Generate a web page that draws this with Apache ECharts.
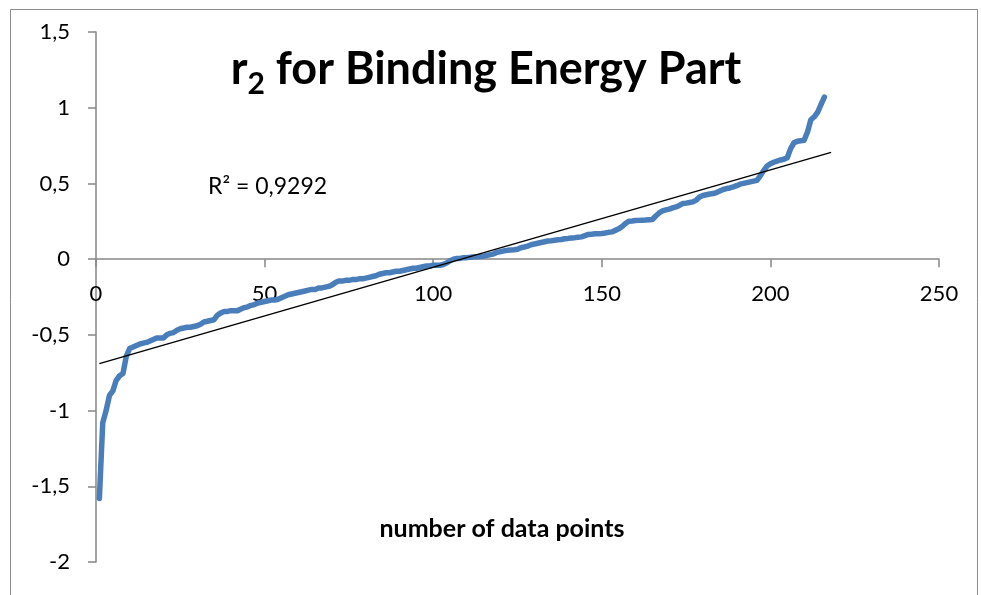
<!DOCTYPE html>
<html>
<head>
<meta charset="utf-8">
<script src="https://cdn.jsdelivr.net/npm/echarts@6/dist/echarts.min.js"></script>
<style>
html,body{margin:0;padding:0;background:#fff;}
#chart{width:981px;height:595px;}
</style>
</head>
<body>
<div id="chart"></div>
<script>
// r2 values, sorted, for data points 1..216
const r2Values = [
 -1.58,-1.08,-1.00,-0.90,-0.87,-0.80,-0.77,-0.755,-0.64,-0.59,
 -0.58,-0.57,-0.56,-0.555,-0.55,-0.54,-0.53,-0.52,-0.52,-0.52,
 -0.50,-0.49,-0.485,-0.47,-0.46,-0.455,-0.45,-0.45,-0.445,-0.44,
 -0.43,-0.415,-0.41,-0.405,-0.40,-0.37,-0.355,-0.345,-0.345,-0.34,
 -0.34,-0.34,-0.33,-0.32,-0.315,-0.305,-0.30,-0.29,-0.285,-0.28,
 -0.275,-0.27,-0.27,-0.265,-0.255,-0.245,-0.235,-0.23,-0.225,-0.22,
 -0.215,-0.21,-0.205,-0.20,-0.20,-0.19,-0.19,-0.185,-0.18,-0.17,
 -0.155,-0.145,-0.145,-0.14,-0.14,-0.135,-0.135,-0.13,-0.13,-0.125,
 -0.12,-0.115,-0.11,-0.10,-0.095,-0.09,-0.09,-0.085,-0.08,-0.08,
 -0.075,-0.07,-0.065,-0.06,-0.06,-0.055,-0.05,-0.045,-0.045,-0.04,
 -0.04,-0.04,-0.035,-0.025,-0.01,0.00,0.005,0.005,0.01,0.01,
 0.012,0.015,0.015,0.018,0.02,0.025,0.03,0.035,0.045,0.05,
 0.055,0.058,0.06,0.062,0.065,0.075,0.08,0.086,0.095,0.10,
 0.105,0.11,0.115,0.12,0.122,0.125,0.128,0.13,0.135,0.137,
 0.14,0.142,0.145,0.147,0.155,0.163,0.165,0.167,0.168,0.17,
 0.173,0.177,0.18,0.19,0.20,0.215,0.235,0.25,0.252,0.255,
 0.256,0.257,0.258,0.26,0.262,0.285,0.305,0.318,0.325,0.33,
 0.338,0.345,0.355,0.367,0.37,0.374,0.378,0.39,0.41,0.42,
 0.425,0.43,0.433,0.44,0.45,0.46,0.466,0.47,0.477,0.485,
 0.495,0.50,0.505,0.51,0.515,0.52,0.55,0.585,0.615,0.63,
 0.64,0.648,0.655,0.66,0.67,0.73,0.77,0.778,0.782,0.785,
 0.84,0.92,0.94,0.97,1.02,1.07
];
// linear trendline endpoints
const trendX = [1, 218];
const trendY = [-0.69, 0.705];
const xTicks = [0, 50, 100, 150, 200, 250];
const yTicks = [-2, -1.5, -1, -0.5, 0, 0.5, 1, 1.5];
const titleText = 'for Binding Energy Part';
const r2Label = 'R² = 0,9292';
const xAxisTitle = 'number of data points';

const font = 'Lato, "Open Sans", sans-serif';
const seriesData = r2Values.map((v, i) => [i + 1, v]);
const trendData = trendX.map((x, i) => [x, trendY[i]]);

const gridTop = 32, gridH = 530;
const yMin = yTicks[0], yMax = yTicks[yTicks.length - 1];
// place x axis line at y = 0 (crossing), measured from the grid bottom
const zeroOffset = -gridH * (0 - yMin) / (yMax - yMin);

const chart = echarts.init(document.getElementById('chart'), null, {renderer: 'canvas'});
chart.setOption({
  animation: false,
  backgroundColor: '#ffffff',
  title: [
    {
      text: '{a|r}{b|2}{a| ' + titleText + '}',
      left: 481, top: 34, textAlign: 'center',
      textStyle: {
        rich: {
          a: {fontFamily: font, fontSize: 45, fontWeight: 'bold', color: '#000', lineHeight: 60, verticalAlign: 'middle'},
          b: {fontFamily: font, fontSize: 30, fontWeight: 'bold', color: '#000', lineHeight: 60, verticalAlign: 'bottom'}
        }
      }
    },
    {
      text: r2Label, left: 203, top: 170,
      textStyle: {fontFamily: font, fontSize: 23, fontWeight: 'normal', color: '#000'}
    },
    {
      text: xAxisTitle, left: 497, top: 511, textAlign: 'center',
      textStyle: {fontFamily: font, fontSize: 25, fontWeight: 'bold', color: '#000'}
    }
  ],
  graphic: [{
    type: 'rect', silent: true,
    shape: {x: 10.5, y: 9.5, width: 967, height: 600},
    style: {fill: 'none', stroke: '#8c8c8c', lineWidth: 1}
  }],
  grid: {left: 96, top: gridTop, width: 843, height: gridH, containLabel: false},
  xAxis: {
    type: 'value', min: xTicks[0], max: xTicks[xTicks.length - 1], interval: 50,
    position: 'bottom', offset: zeroOffset,
    axisLine: {show: true, onZero: false, lineStyle: {color: '#868686', width: 1.5}},
    axisTick: {show: true, inside: false, length: 8, lineStyle: {color: '#868686', width: 1.5}},
    axisLabel: {fontFamily: font, fontSize: 22, color: '#000', margin: 24},
    splitLine: {show: false}
  },
  yAxis: {
    type: 'value', min: yMin, max: yMax, interval: 0.5,
    axisLine: {show: true, onZero: false, lineStyle: {color: '#868686', width: 1.5}},
    axisTick: {show: true, inside: false, length: 8, lineStyle: {color: '#868686', width: 1.5}},
    axisLabel: {fontFamily: font, fontSize: 22, color: '#000', margin: 26,
      formatter: v => String(v).replace('.', ',')},
    splitLine: {show: false}
  },
  series: [
    {
      type: 'line', data: seriesData, showSymbol: false, symbol: 'none',
      lineStyle: {color: '#4A7EBB', width: 5.5, cap: 'round', join: 'round'},
      z: 2
    },
    {
      type: 'line', data: trendData, showSymbol: false, symbol: 'none',
      lineStyle: {color: '#000', width: 1.5},
      z: 3
    }
  ]
});
</script>
</body>
</html>
